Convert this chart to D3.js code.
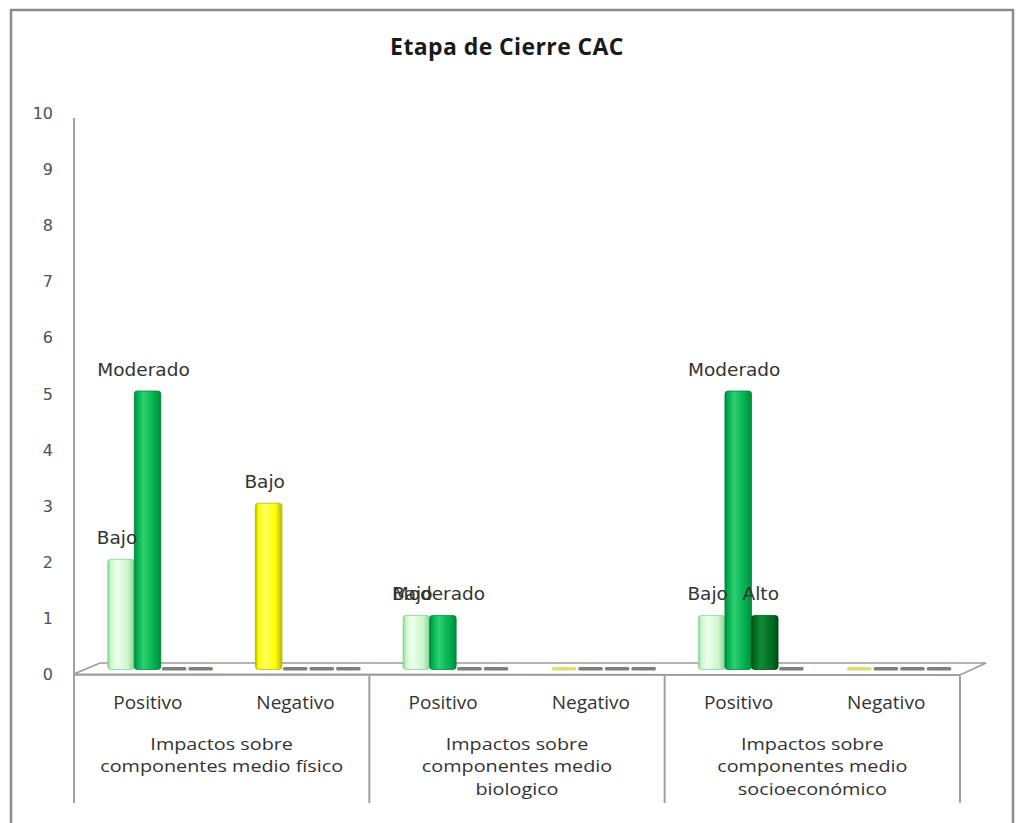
<!DOCTYPE html>
<html><head><meta charset="utf-8">
<script src="https://cdn.jsdelivr.net/npm/d3@7"></script>
<style>body{margin:0;background:#fff}svg{display:block}</style>
</head><body><svg id="c" width="1016" height="823"></svg>
<script>
// ---- data ----
const groups = ["Impactos sobre componentes medio físico", "Impactos sobre componentes medio biologico", "Impactos sobre componentes medio socioeconómico"];
const groupLines = [["Impactos sobre","componentes medio físico"],["Impactos sobre","componentes medio","biologico"],["Impactos sobre","componentes medio","socioeconómico"]];
const subcats = ["Positivo", "Negativo"];
const series = ["Bajo", "Moderado", "Alto", "Muy alto"];
// values[group][subcat][series]
const fisico = [[2,5,0,0],[3,0,0,0]];
const biologico = [[1,1,0,0],[0,0,0,0]];
const socio = [[1,5,1,0],[0,0,0,0]];
const yTicks = [0,1,2,3,4,5,6,7,8,9,10];
const title = "Etapa de Cierre CAC";

const values = [fisico, biologico, socio];
const svg = d3.select("#c");
const defs = svg.append("defs");

// outer frame
svg.append("rect").attr("x",11).attr("y",10).attr("width",1002).attr("height",830)
  .attr("fill","#fff").attr("stroke","#8c8c8c").attr("stroke-width",2.5);

svg.append("text").attr("x",507).attr("y",55).attr("text-anchor","middle")
  .style("font-family","'Open Sans'").style("font-weight","bold").style("font-size","23px")
  .style("letter-spacing","0.4px").attr("fill","#1a1a1a").text(title);

const x0 = 74, x1 = 960, depthX = 26, depthY = 11;
const y = d3.scaleLinear().domain([0,10]).range([674,113]);

const cats = [];
groups.forEach((g,gi)=>subcats.forEach((s,si)=>cats.push({g:gi,s:si,key:gi+"-"+si,vals:values[gi][si]})));
const xCat = d3.scaleBand().domain(cats.map(c=>c.key)).range([x0,x1]).paddingInner(0).paddingOuter(0);
const xGroup = d3.scaleBand().domain(d3.range(groups.length)).range([x0,x1]);
const xSer = d3.scaleBand().domain(series).range([0,xCat.bandwidth()]).paddingOuter(0.78).paddingInner(0);

// floor
svg.append("path").attr("d",`M${x0},${y(0)}L${x0+depthX},${y(0)-depthY}L${x1+depthX},${y(0)-depthY}L${x1},${y(0)+1}Z`)
  .attr("fill","#fff").attr("stroke","#9a9a9a").attr("stroke-width",1.5);
svg.append("line").attr("x1",x0).attr("x2",x1).attr("y1",y(0)+1).attr("y2",y(0)+1).attr("stroke","#9a9a9a").attr("stroke-width",1.5);

// y axis line
svg.append("line").attr("x1",x0).attr("x2",x0).attr("y1",y(10)+5).attr("y2",803).attr("stroke","#a0a0a0").attr("stroke-width",2);
// y tick labels
svg.append("g").selectAll("text").data(yTicks).join("text")
  .attr("x",53).attr("y",d=>y(d)+6).attr("text-anchor","end")
  .style("font-family","'DejaVu Sans'").style("font-size","16px").attr("fill","#505050").text(d=>d);

// group dividers
const divs = d3.range(groups.length+1).map(i=> i<groups.length ? xGroup(i) : x1);
svg.append("g").selectAll("line").data(divs.slice(1)).join("line")
  .attr("x1",d=>d).attr("x2",d=>d).attr("y1",y(0)+2).attr("y2",803).attr("stroke","#a0a0a0").attr("stroke-width",2);

// gradients
const colorDefs = {
  pale:{edge:"#86d496",mid:"#ccf7cc",hi:"#eeffee"},
  green:{edge:"#008a3c",mid:"#00b050",hi:"#2fd070"},
  dark:{edge:"#004d14",mid:"#006e22",hi:"#118a33"},
  yellow:{edge:"#b8b800",mid:"#ffff00",hi:"#ffff66"}
};
Object.entries(colorDefs).forEach(([k,c])=>{
  const gr = defs.append("linearGradient").attr("id","g-"+k).attr("x1","0").attr("x2","1").attr("y1","0").attr("y2","0");
  gr.append("stop").attr("offset","0%").attr("stop-color",c.edge);
  gr.append("stop").attr("offset","12%").attr("stop-color",c.mid);
  gr.append("stop").attr("offset","35%").attr("stop-color",c.hi);
  gr.append("stop").attr("offset","75%").attr("stop-color",c.mid);
  gr.append("stop").attr("offset","100%").attr("stop-color",c.edge);
});
function colorKey(c, si){
  if(si===0) return c.s===0 ? "pale" : "yellow";
  if(si===1) return "green";
  return "dark";
}

const offX = depthX/2, offY = depthY/2 - 1;
const bars = [];
cats.forEach(c=>c.vals.forEach((v,si)=>bars.push({c,si,v,ser:series[si]})));

const gBars = svg.append("g");
bars.forEach(b=>{
  const bx = xCat(b.c.key) + xSer(b.ser) + offX;
  const w = xSer.bandwidth();
  const base = y(0) - offY;
  if(b.v>0){
    const top = y(b.v) - offY + 2;
    const k = colorKey(b.c,b.si);
    gBars.append("rect").attr("x",bx).attr("y",top).attr("width",w).attr("height",base-top)
      .attr("rx",3).attr("ry",3).attr("fill",`url(#g-${k})`).attr("stroke",colorDefs[k].edge).attr("stroke-width",0.8);
  } else {
    const zc = (b.si===0 && b.c.s===1) ? "#d8d860" : "#5f6f5f";
    gBars.append("rect").attr("x",bx+1).attr("y",base-2.5).attr("width",w-2).attr("height",3.5)
      .attr("rx",1.5).attr("fill",zc).attr("opacity",0.85);
  }
});
// data labels
const gLab = svg.append("g");
bars.filter(b=>b.v>0).forEach(b=>{
  const cx = xCat(b.c.key) + xSer(b.ser) + offX + xSer.bandwidth()/2 - 4;
  gLab.append("text").attr("x",cx).attr("y",y(b.v) - offY - 13).attr("text-anchor","middle")
    .style("font-family","'DejaVu Sans'").style("font-size","18.5px").attr("fill","#333")
    .text(b.ser);
});

// subcategory labels
svg.append("g").selectAll("text").data(cats).join("text")
  .attr("x",d=>xCat(d.key)+xCat.bandwidth()/2).attr("y",709).attr("text-anchor","middle")
  .style("font-family","'Open Sans'").style("font-size","19px").attr("fill","#333")
  .text(d=>subcats[d.s]);

// group labels (slightly stretched horizontally, as in the source)
groupLines.forEach((lines,gi)=>{
  const cx = xGroup(gi)+xGroup.bandwidth()/2;
  const t = svg.append("text").attr("transform",`translate(${cx},750) scale(1.2,1)`).attr("text-anchor","middle")
    .style("font-family","'Open Sans'").style("font-size","16.5px").attr("fill","#333");
  lines.forEach((l,li)=>t.append("tspan").attr("x",0).attr("dy",li===0?0:22.5).text(l));
});
</script></body></html>
